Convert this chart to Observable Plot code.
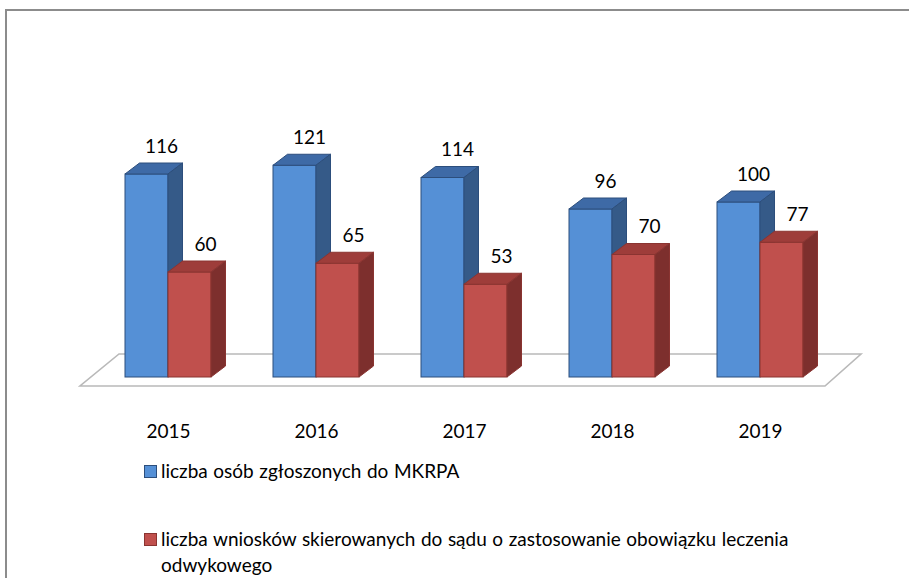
<!DOCTYPE html>
<html>
<head>
<meta charset="utf-8">
<script src="https://cdn.jsdelivr.net/npm/d3@7"></script>
<script src="https://cdn.jsdelivr.net/npm/@observablehq/plot@0.6"></script>
<style>
  body { margin: 0; background: #fff; }
  #wrap { position: relative; width: 909px; height: 578px; overflow: hidden; font-family: Lato, sans-serif; background: #fff; }
  #frame { position: absolute; left: 5px; top: 9px; width: 1000px; height: 1000px; border-top: 2px solid #8c8c8c; border-left: 2px solid #8c8c8c; box-sizing: border-box; }
  #chart { position: relative; }
  #chart svg { display: block; }
  #legend { position: relative; padding-left: 144px; font-size: 19px; line-height: 26px; color: #000; word-spacing: 0.7px; }
  .item { position: relative; padding-left: 17px; white-space: nowrap; }
  .sw { position: absolute; left: 0; top: 7.5px; width: 11px; height: 11px; border: 1px solid; }
</style>
</head>
<body>
<div id="wrap">
  <div id="frame"></div>
  <div id="chart"></div>
  <div id="legend"></div>
</div>
<script>
const years = ["2015", "2016", "2017", "2018", "2019"];
const zgloszone = [116, 121, 114, 96, 100];
const wnioski = [60, 65, 53, 70, 77];
const seriesNames = [
  "liczba osób zgłoszonych do MKRPA",
  "liczba wniosków skierowanych do sądu o zastosowanie obowiązku leczenia<br>odwykowego"
];

const blue = years.map((y, i) => ({year: y, v: zgloszone[i]}));
const red = years.map((y, i) => ({year: y, v: wnioski[i]}));

const C = {
  blue: {front: "#5590D6", top: "#3E6AA6", side: "#355A88", stroke: "#2C4E7C"},
  red: {front: "#C0504D", top: "#9E3D3A", side: "#7D2F2D", stroke: "#8A3431"}
};
const svgns = "http://www.w3.org/2000/svg";
const DX = 14.5, DY = 11;

function extrude(c) {
  return (index, scales, values, dims, ctx, next) => {
    const g = next(index, scales, values, dims, ctx);
    d3.select(g).selectAll("rect").each(function() {
      const r = d3.select(this);
      const x = +r.attr("x"), y = +r.attr("y"), w = +r.attr("width"), h = +r.attr("height");
      const par = this.parentNode;
      const top = document.createElementNS(svgns, "path");
      top.setAttribute("d", `M${x},${y}L${x + DX},${y - DY}L${x + w + DX},${y - DY}L${x + w},${y}Z`);
      top.setAttribute("fill", c.top); top.setAttribute("stroke", c.stroke); top.setAttribute("stroke-width", 1);
      top.setAttribute("stroke-linejoin", "round");
      const side = document.createElementNS(svgns, "path");
      side.setAttribute("d", `M${x + w},${y}L${x + w + DX},${y - DY}L${x + w + DX},${y + h - DY}L${x + w},${y + h}Z`);
      side.setAttribute("fill", c.side); side.setAttribute("stroke", c.stroke); side.setAttribute("stroke-width", 1);
      side.setAttribute("stroke-linejoin", "round");
      par.insertBefore(side, this.nextSibling);
      par.insertBefore(top, this.nextSibling);
    });
    return g;
  };
}

function floor(index, scales, values, dims) {
  const r0 = dims.marginLeft, r1 = dims.width - dims.marginRight;
  const y0 = scales.y(0);
  const g = d3.create("svg:g");
  g.append("path")
    .attr("d", `M${r0 + 20},${y0 + 9}L${r1 - 42},${y0 + 9}L${r1 - 6},${y0 - 23}L${r0 + 59},${y0 - 23}Z`)
    .attr("fill", "#fff").attr("stroke", "#b9b9b9").attr("stroke-width", 1.6);
  return g.node();
}

const plot = Plot.plot({
  width: 909,
  height: 450,
  marginLeft: 60,
  marginRight: 42,
  marginTop: 27,
  marginBottom: 73,
  style: {fontFamily: "Lato, sans-serif", fontSize: "19px", color: "#000", background: "transparent"},
  x: {domain: years, padding: 0.422, label: null},
  y: {domain: [0, 200], axis: null},
  marks: [
    Plot.frame({stroke: "none", render: floor}),
    Plot.barY(blue, {x: "year", y: "v", fill: C.blue.front, stroke: C.blue.stroke, strokeWidth: 1, insetRight: 43, insetLeft: 0, render: extrude(C.blue)}),
    Plot.barY(red, {x: "year", y: "v", fill: C.red.front, stroke: C.red.stroke, strokeWidth: 1, insetLeft: 43, insetRight: 0, render: extrude(C.red)}),
    Plot.text(blue, {x: "year", y: "v", text: d => String(d.v), dx: -7, dy: -28, fontSize: 19, fill: "#000"}),
    Plot.text(red, {x: "year", y: "v", text: d => String(d.v), dx: 37, dy: -28, fontSize: 19, fill: "#000"}),
    Plot.axisX({tickSize: 0, tickPadding: 47, fontSize: 19, label: null})
  ]
});
document.getElementById("chart").appendChild(plot);

const legend = document.getElementById("legend");
const cols = [C.blue, C.red];
const margins = [7.5, 42];
seriesNames.forEach((name, i) => {
  const div = document.createElement("div");
  div.className = "item";
  div.style.marginTop = margins[i] + "px";
  div.innerHTML = `<span class="sw" style="background:${cols[i].front};border-color:${cols[i].stroke}"></span>${name}`;
  legend.appendChild(div);
});
</script>
</body>
</html>
